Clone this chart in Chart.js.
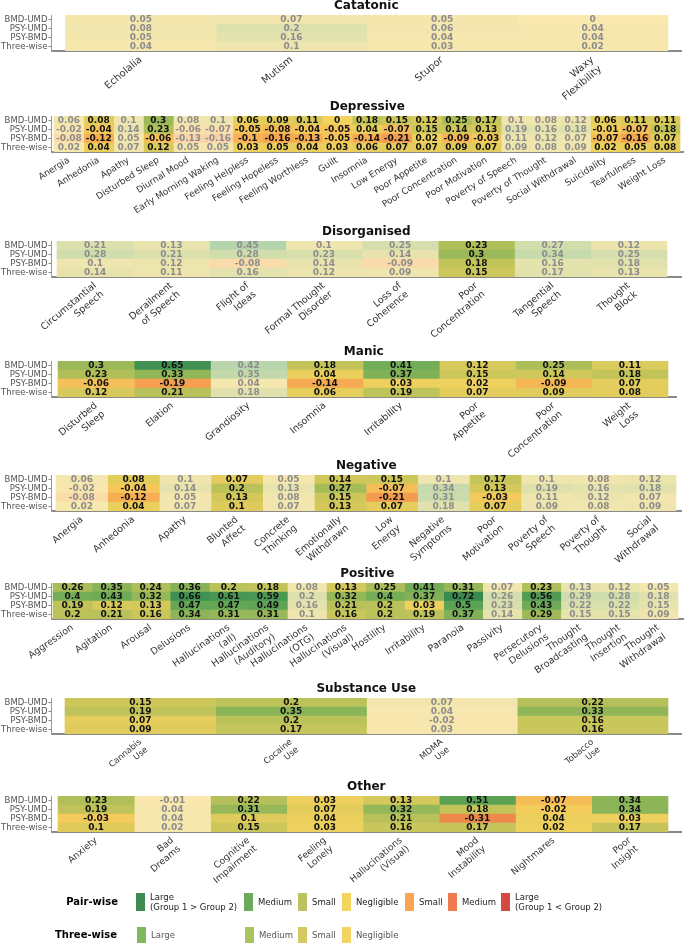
<!DOCTYPE html>
<html>
<head>
<meta charset="utf-8">
<script src="https://cdn.jsdelivr.net/npm/chart.js@4.4.0/dist/chart.umd.min.js"></script>
<style>
  body { margin: 0; background: #fff; width: 685px; height: 946px; position: relative; overflow: hidden; font-family: 'DejaVu Sans', sans-serif; }
  canvas.panel { position: absolute; left: 0; }
  .lg { position: absolute; font-size: 8.5px; line-height: 10px; white-space: nowrap; }
  .sw { position: absolute; width: 9px; }
</style>
</head>
<body>
<script>
const rows = ['BMD-UMD', 'PSY-UMD', 'PSY-BMD', 'Three-wise'];

// Catatonic
const catatonicCols = ['Echolalia', 'Mutism', 'Stupor', ['Waxy', 'Flexibility']];
const catatonicVals = [
  [0.05, 0.07, 0.05, 0],
  [0.08, 0.2, 0.06, 0.04],
  [0.05, 0.16, 0.04, 0.04],
  [0.04, 0.1, 0.03, 0.02]
];
const catatonicSig = [false, false, false, false];

// Depressive
const depressiveCols = ['Anergia', 'Anhedonia', 'Apathy', 'Disturbed Sleep', 'Diurnal Mood', 'Early Morning Waking',
  'Feeling Helpless', 'Feeling Hopeless', 'Feeling Worthless', 'Guilt', 'Insomnia', 'Low Energy', 'Poor Appetite',
  'Poor Concentration', 'Poor Motivation', 'Poverty of Speech', 'Poverty of Thought', 'Social Withdrawal',
  'Suicidality', 'Tearfulness', 'Weight Loss'];
const depressiveVals = [
  [0.06, 0.08, 0.1, 0.3, 0.08, 0.1, 0.06, 0.09, 0.11, 0, 0.18, 0.15, 0.12, 0.25, 0.17, 0.1, 0.08, 0.12, 0.06, 0.11, 0.11],
  [-0.02, -0.04, 0.14, 0.23, -0.06, -0.07, -0.05, -0.08, -0.04, -0.05, 0.04, -0.07, 0.15, 0.14, 0.13, 0.19, 0.16, 0.18, -0.01, -0.07, 0.18],
  [-0.08, -0.12, 0.05, -0.06, -0.13, -0.16, -0.1, -0.16, -0.13, -0.05, -0.14, -0.21, 0.02, -0.09, -0.03, 0.11, 0.12, 0.07, -0.07, -0.16, 0.07],
  [0.02, 0.04, 0.07, 0.12, 0.05, 0.05, 0.03, 0.05, 0.04, 0.03, 0.06, 0.07, 0.07, 0.09, 0.07, 0.09, 0.08, 0.09, 0.02, 0.05, 0.08]
];
const depressiveSig = [false, true, false, true, false, false, true, true, true, true, true, true, true, true, true,
  false, false, false, true, true, true];

// Disorganised
const disorganisedCols = [['Circumstantial', 'Speech'], ['Derailment', 'of Speech'], ['Flight of', 'Ideas'],
  ['Formal Thought', 'Disorder'], ['Loss of', 'Coherence'], ['Poor', 'Concentration'], ['Tangential', 'Speech'],
  ['Thought', 'Block']];
const disorganisedVals = [
  [0.21, 0.13, 0.45, 0.1, 0.25, 0.23, 0.27, 0.12],
  [0.28, 0.21, 0.28, 0.23, 0.14, 0.3, 0.34, 0.25],
  [0.1, 0.12, -0.08, 0.14, -0.09, 0.18, 0.16, 0.18],
  [0.14, 0.11, 0.16, 0.12, 0.09, 0.15, 0.17, 0.13]
];
const disorganisedSig = [false, false, false, false, false, true, false, false];

// Manic
const manicCols = [['Disturbed', 'Sleep'], 'Elation', 'Grandiosity', 'Insomnia', 'Irritability', ['Poor', 'Appetite'],
  ['Poor', 'Concentration'], ['Weight', 'Loss']];
const manicVals = [
  [0.3, 0.65, 0.42, 0.18, 0.41, 0.12, 0.25, 0.11],
  [0.23, 0.33, 0.35, 0.04, 0.37, 0.15, 0.14, 0.18],
  [-0.06, -0.19, 0.04, -0.14, 0.03, 0.02, -0.09, 0.07],
  [0.12, 0.21, 0.18, 0.06, 0.19, 0.07, 0.09, 0.08]
];
const manicSig = [true, true, false, true, true, true, true, true];

// Negative
const negativeCols = ['Anergia', 'Anhedonia', 'Apathy', ['Blunted', 'Affect'], ['Concrete', 'Thinking'],
  ['Emotionally', 'Withdrawn'], ['Low', 'Energy'], ['Negative', 'Symptoms'], ['Poor', 'Motivation'],
  ['Poverty of', 'Speech'], ['Poverty of', 'Thought'], ['Social', 'Withdrawal']];
const negativeVals = [
  [0.06, 0.08, 0.1, 0.07, 0.05, 0.14, 0.15, 0.1, 0.17, 0.1, 0.08, 0.12],
  [-0.02, -0.04, 0.14, 0.2, 0.13, 0.27, -0.07, 0.34, 0.13, 0.19, 0.16, 0.18],
  [-0.08, -0.12, 0.05, 0.13, 0.08, 0.15, -0.21, 0.31, -0.03, 0.11, 0.12, 0.07],
  [0.02, 0.04, 0.07, 0.1, 0.07, 0.13, 0.07, 0.18, 0.07, 0.09, 0.08, 0.09]
];
const negativeSig = [false, true, false, true, false, true, true, false, true, false, false, false];

// Positive
const positiveCols = ['Aggression', 'Agitation', 'Arousal', 'Delusions', ['Hallucinations', '(all)'],
  ['Hallucinations', '(Auditory)'], ['Hallucinations', '(OTG)'], ['Hallucinations', '(Visual)'], 'Hostility',
  'Irritability', 'Paranoia', 'Passivity', ['Persecutory', 'Delusions'], ['Thought', 'Broadcasting'],
  ['Thought', 'Insertion'], ['Thought', 'Withdrawal']];
const positiveVals = [
  [0.26, 0.35, 0.24, 0.36, 0.2, 0.18, 0.08, 0.13, 0.25, 0.41, 0.31, 0.07, 0.23, 0.13, 0.12, 0.05],
  [0.4, 0.43, 0.32, 0.66, 0.61, 0.59, 0.2, 0.32, 0.4, 0.37, 0.72, 0.26, 0.56, 0.29, 0.28, 0.18],
  [0.19, 0.12, 0.13, 0.47, 0.47, 0.49, 0.16, 0.21, 0.2, 0.03, 0.5, 0.23, 0.43, 0.22, 0.22, 0.15],
  [0.2, 0.21, 0.16, 0.34, 0.31, 0.31, 0.1, 0.16, 0.2, 0.19, 0.37, 0.14, 0.29, 0.15, 0.15, 0.09]
];
const positiveSig = [true, true, true, true, true, true, false, true, true, true, true, false, true, false, false, false];

// Substance Use
const substanceCols = [['Cannabis', 'Use'], ['Cocaine', 'Use'], ['MDMA', 'Use'], ['Tobacco', 'Use']];
const substanceVals = [
  [0.15, 0.2, 0.07, 0.22],
  [0.19, 0.35, 0.04, 0.33],
  [0.07, 0.2, -0.02, 0.16],
  [0.09, 0.17, 0.03, 0.16]
];
const substanceSig = [true, true, false, true];

// Other
const otherCols = ['Anxiety', ['Bad', 'Dreams'], ['Cognitive', 'Impairment'], ['Feeling', 'Lonely'],
  ['Hallucinations', '(Visual)'], ['Mood', 'Instability'], 'Nightmares', ['Poor', 'Insight']];
const otherVals = [
  [0.23, -0.01, 0.22, 0.03, 0.13, 0.51, -0.07, 0.34],
  [0.19, 0.04, 0.31, 0.07, 0.32, 0.18, -0.02, 0.34],
  [-0.03, 0.04, 0.1, 0.04, 0.21, -0.31, 0.04, 0.03],
  [0.1, 0.02, 0.15, 0.03, 0.16, 0.17, 0.02, 0.17]
];
const otherSig = [true, false, true, true, true, true, true, true];

// legend
const pairLabels = [['Large', '(Group 1 > Group 2)'], 'Medium', 'Small', 'Negligible', 'Small', 'Medium', ['Large', '(Group 1 < Group 2)']];
const pairColors = ['#3d8b50', '#6aaa5a', '#bcc35e', '#f5d35f', '#f9a552', '#f07b4c', '#d54a40'];
const threeLabels = ['Large', 'Medium', 'Small', 'Negligible'];
const threeColors = ['#80b85c', '#a9c45c', '#d4c962', '#f5d362'];

const FONT = "'DejaVu Sans', sans-serif";
const PAD_TOP = 20, AXIS_H = 85, Y_AXIS = 51.5;

const panels = [
  { title: 'Catatonic', cols: catatonicCols, vals: catatonicVals, sig: catatonicSig, top: 15, left: 65.5, right: 668, end: 681, rot: 40, fs: 10 },
  { title: 'Depressive', cols: depressiveCols, vals: depressiveVals, sig: depressiveSig, top: 116, left: 54, right: 680, end: 683, rot: 32, fs: 9 },
  { title: 'Disorganised', cols: disorganisedCols, vals: disorganisedVals, sig: disorganisedSig, top: 241, left: 57, right: 667, end: 681, rot: 40, fs: 9.5 },
  { title: 'Manic', cols: manicCols, vals: manicVals, sig: manicSig, top: 361, left: 58, right: 668, end: 676, rot: 40, fs: 9.5 },
  { title: 'Negative', cols: negativeCols, vals: negativeVals, sig: negativeSig, top: 475, left: 56, right: 676, end: 681, rot: 40, fs: 9.5 },
  { title: 'Positive', cols: positiveCols, vals: positiveVals, sig: positiveSig, top: 583, left: 53, right: 678, end: 683, rot: 35, fs: 9.5 },
  { title: 'Substance Use', cols: substanceCols, vals: substanceVals, sig: substanceSig, top: 698, left: 65, right: 668, end: 681, rot: 40, fs: 8.5 },
  { title: 'Other', cols: otherCols, vals: otherVals, sig: otherSig, top: 796, left: 58, right: 668, end: 681, rot: 40, fs: 9.2 }
];

// effect size -> colour (green for group 1 > group 2, orange/red for the reverse)
const posStops = [[0, [243, 210, 94]], [0.1, [222, 203, 92]], [0.2, [187, 194, 90]], [0.3, [155, 185, 88]],
  [0.4, [118, 174, 87]], [0.5, [92, 162, 86]], [0.65, [64, 145, 82]], [0.8, [50, 130, 76]]];
const negStops = [[0, [243, 210, 94]], [0.05, [245, 196, 90]], [0.1, [246, 178, 84]], [0.2, [246, 157, 79]],
  [0.3, [240, 138, 76]], [0.45, [228, 104, 68]], [0.6, [214, 72, 63]]];

function cellColor(v, sig) {
  const stops = v < 0 ? negStops : posStops;
  const a = Math.abs(v);
  let c = stops[stops.length - 1][1];
  for (let k = 0; k < stops.length - 1; k++) {
    if (a <= stops[k + 1][0]) {
      const t = (a - stops[k][0]) / (stops[k + 1][0] - stops[k][0]);
      c = stops[k][1].map((x, m) => x + (stops[k + 1][1][m] - x) * t);
      break;
    }
  }
  if (!sig) c = c.map(x => 255 - (255 - x) * 0.5);
  return 'rgb(' + c.map(Math.round).join(',') + ')';
}

function makePanel(p) {
  const n = p.cols.length;
  const cellW = (p.right - p.left) / n;
  const canvas = document.createElement('canvas');
  canvas.className = 'panel';
  const h = PAD_TOP + 36 + AXIS_H;
  canvas.width = 685;
  canvas.height = h;
  canvas.style.top = (p.top - PAD_TOP) + 'px';
  canvas.style.width = '685px';
  canvas.style.height = h + 'px';
  document.body.appendChild(canvas);

  new Chart(canvas, {
    type: 'bar',
    data: {
      labels: rows,
      datasets: p.cols.map((c, j) => ({
        data: rows.map(() => [j - 0.5, j + 0.5]),
        backgroundColor: rows.map((r, i) => cellColor(p.vals[i][j], p.sig[j])),
        borderWidth: 0,
        grouped: false,
        barPercentage: 1,
        categoryPercentage: 1
      }))
    },
    options: {
      indexAxis: 'y',
      responsive: false,
      animation: false,
      events: [],
      layout: { padding: { top: PAD_TOP, left: 0, right: 685 - p.end, bottom: 0 } },
      plugins: { legend: { display: false }, tooltip: { enabled: false } },
      scales: {
        x: {
          type: 'linear',
          min: -0.5 - (p.left - Y_AXIS) / cellW,
          max: n - 0.5 + (p.end - p.right) / cellW,
          afterBuildTicks: s => { s.ticks = p.cols.map((c, j) => ({ value: j })); },
          afterFit: s => { s.height = AXIS_H; },
          grid: { display: false, drawTicks: false },
          border: { display: true, color: '#8a8a8a', width: 2 },
          ticks: {
            autoSkip: false, minRotation: p.rot, maxRotation: p.rot, padding: 3,
            color: '#333', font: { family: FONT, size: p.fs },
            callback: (v, i) => p.cols[i]
          }
        },
        y: {
          afterFit: s => { s.width = Y_AXIS; },
          grid: { display: true, drawOnChartArea: false, drawTicks: true, tickLength: 3, color: '#888', offset: false },
          border: { display: true, color: '#999', width: 1 },
          ticks: { autoSkip: false, padding: 1, color: '#555', font: { family: FONT, size: 8.5 } }
        }
      }
    },
    plugins: [{
      id: 'cellText',
      afterDatasetsDraw(chart) {
        const ctx = chart.ctx;
        const a = chart.chartArea;
        ctx.save();
        ctx.textAlign = 'center';
        ctx.textBaseline = 'middle';
        ctx.font = 'bold 9px ' + FONT;
        chart.data.datasets.forEach((ds, j) => {
          chart.getDatasetMeta(j).data.forEach((bar, i) => {
            ctx.fillStyle = p.sig[j] ? '#111' : '#8c8c8c';
            ctx.fillText(String(p.vals[i][j]), (bar.x + bar.base) / 2, bar.y + 0.5);
          });
        });
        ctx.font = 'bold 12px ' + FONT;
        ctx.fillStyle = '#111';
        ctx.fillText(p.title, (a.left + a.right) / 2, a.top - 9.5);
        ctx.restore();
      }
    }]
  });
}

panels.forEach(makePanel);

// legend
function addText(txt, left, cy, style) {
  const d = document.createElement('div');
  d.className = 'lg';
  const lines = Array.isArray(txt) ? txt : [txt];
  d.innerHTML = lines.join('<br>');
  d.style.left = left + 'px';
  d.style.top = (cy - lines.length * 5) + 'px';
  Object.assign(d.style, style || {});
  document.body.appendChild(d);
  return d;
}
function addSwatch(color, left, top, h) {
  const s = document.createElement('div');
  s.className = 'sw';
  s.style.left = left + 'px';
  s.style.top = top + 'px';
  s.style.height = h + 'px';
  s.style.background = color;
  document.body.appendChild(s);
}

const pairX = [136, 244, 298, 342, 405, 448, 501];
const threeX = [137, 245, 298, 342];
addText('Pair-wise', 0, 902, { fontWeight: 'bold', fontSize: '10px', left: '', right: (685 - 118) + 'px' });
addText('Three-wise', 0, 935, { fontWeight: 'bold', fontSize: '10px', left: '', right: (685 - 117) + 'px' });
pairLabels.forEach((t, k) => {
  addSwatch(pairColors[k], pairX[k], 893, 18);
  addText(t, pairX[k] + 14, 902, { color: '#222' });
});
threeLabels.forEach((t, k) => {
  addSwatch(threeColors[k], threeX[k], 927, 16);
  addText(t, threeX[k] + 14, 935, { color: '#555' });
});
</script>
</body>
</html>
